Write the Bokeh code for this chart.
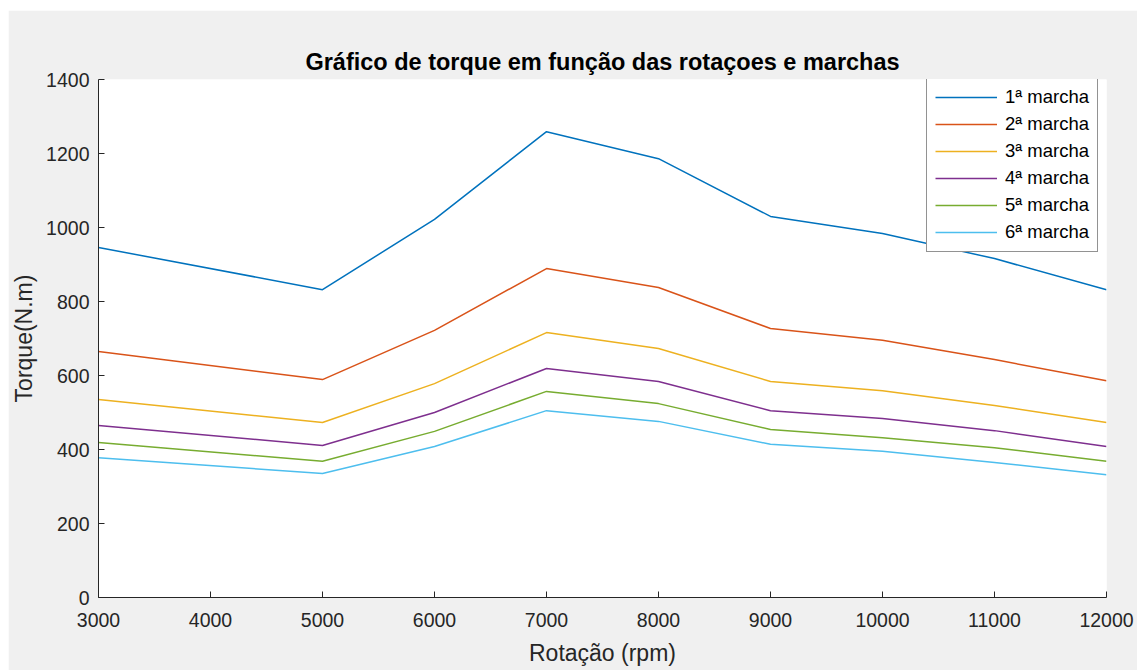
from bokeh.plotting import figure
from bokeh.models import Range1d, FixedTicker
from bokeh.embed import file_html
from bokeh.resources import INLINE

rpm = [3000, 5000, 6000, 7000, 8000, 9000, 10000, 11000, 12000]
marcha1 = [946, 832, 1022, 1259, 1186, 1030, 984, 916, 832]
marcha2 = [665, 589, 722, 889, 838, 727, 695, 643, 586]
marcha3 = [535, 473, 578, 716, 673, 584, 559, 519, 473]
marcha4 = [465, 411, 500, 619, 584, 505, 484, 451, 408]
marcha5 = [419, 368, 449, 557, 524, 454, 432, 405, 368]
marcha6 = [378, 335, 408, 505, 476, 414, 395, 365, 332]
labels = ["1ª marcha", "2ª marcha", "3ª marcha", "4ª marcha", "5ª marcha", "6ª marcha"]
colors = ["#0072BD", "#D95319", "#EDB120", "#7E2F8E", "#77AC30", "#4DBEEE"]
x_ticks = [3000, 4000, 5000, 6000, 7000, 8000, 9000, 10000, 11000, 12000]
y_ticks = [0, 200, 400, 600, 800, 1000, 1200, 1400]

FONT = "Liberation Sans"
AX = "#262626"

p = figure(width=1129, height=660, output_backend="svg", toolbar_location=None,
           x_range=Range1d(3000, 12000), y_range=Range1d(0, 1400),
           min_border_left=87, min_border_right=31, min_border_top=69, min_border_bottom=73,
           title="Gráfico de torque em função das rotaçoes e marchas")
p.margin = (10, 0, 0, 8)

p.border_fill_color = "#f0f0f0"
p.background_fill_color = "white"
p.outline_line_color = None
p.grid.visible = False

p.title.align = "center"
p.title.text_font = FONT
p.title.text_font_size = "23.5px"
p.title.text_font_style = "bold"
p.title.text_color = "black"
p.title.standoff = 9

for ax in (p.xaxis[0], p.yaxis[0]):
    ax.axis_line_color = AX
    ax.axis_line_width = 1
    ax.major_tick_line_color = AX
    ax.major_tick_in = 6
    ax.major_tick_out = 0
    ax.minor_tick_line_color = None
    ax.major_label_text_font = FONT
    ax.major_label_text_font_size = "19.5px"
    ax.major_label_text_color = AX
    ax.axis_label_text_font = FONT
    ax.axis_label_text_font_size = "23px"
    ax.axis_label_text_font_style = "normal"
    ax.axis_label_text_color = AX

p.xaxis.ticker = FixedTicker(ticks=x_ticks)
p.yaxis.ticker = FixedTicker(ticks=y_ticks)
p.xaxis.axis_label = "Rotação (rpm)"
p.yaxis.axis_label = "Torque(N.m)"
p.xaxis.major_label_standoff = 15
p.yaxis.major_label_standoff = 9
p.xaxis.axis_label_standoff = 10
p.yaxis.axis_label_standoff = 6

series = [marcha1, marcha2, marcha3, marcha4, marcha5, marcha6]
for ys, lab, col in zip(series, labels, colors):
    p.line(rpm, ys, line_color=col, line_width=1.5, legend_label=lab)

lg = p.legend[0]
lg.location = (828, 345)
lg.label_text_font = FONT
lg.label_text_font_size = "18.5px"
lg.label_text_color = "black"
lg.glyph_width = 62
lg.glyph_height = 20
lg.label_height = 20
lg.spacing = 5
lg.padding = 8
lg.margin = 0
lg.label_standoff = 8
lg.border_line_color = AX
lg.border_line_width = 1
lg.background_fill_color = "white"
lg.background_fill_alpha = 1

open("out.html", "w").write(file_html(p, INLINE))
